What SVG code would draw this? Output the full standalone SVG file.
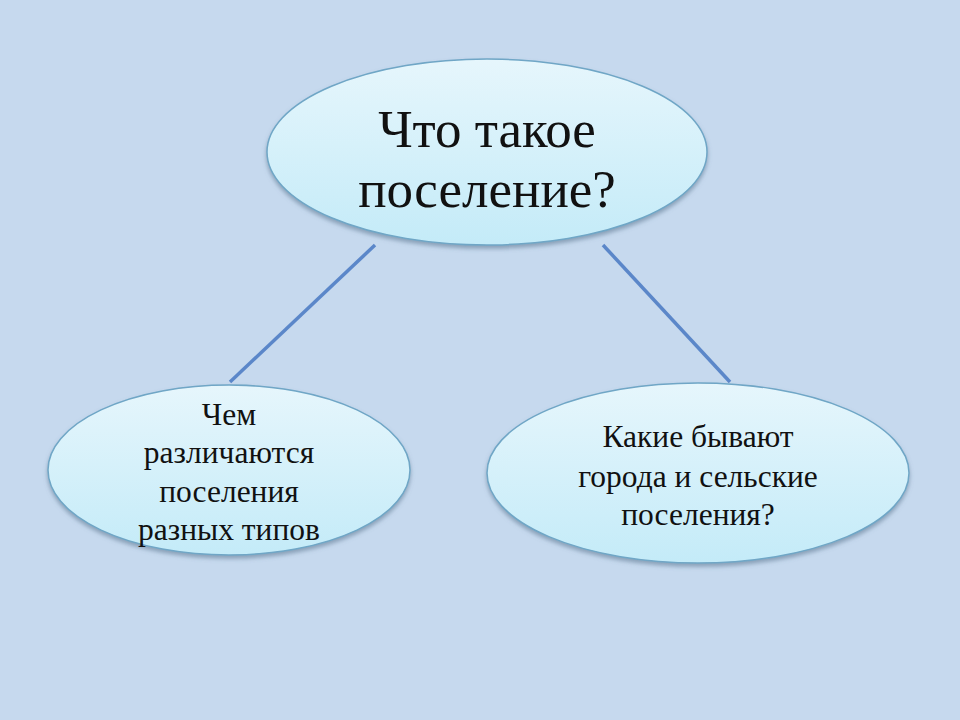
<svg xmlns="http://www.w3.org/2000/svg" width="960" height="720" viewBox="0 0 960 720">
<style>
.node ellipse{fill:url(#g);stroke:#6fa6c6;stroke-width:1.5;filter:url(#sh)}
.t{font-family:"Liberation Serif","Times New Roman",serif;fill:#111;text-anchor:middle}
.big{font-size:53px}
.small{font-size:31.5px}
.conn line{stroke:#5b87c9;stroke-width:3.5}
</style>
<defs>
<linearGradient id="g" x1="0" y1="0" x2="0" y2="1">
<stop offset="0" stop-color="#e6f6fc"/>
<stop offset="1" stop-color="#c4ebf8"/>
</linearGradient>
<filter id="sh" x="-10%" y="-10%" width="120%" height="130%">
<feDropShadow dx="0" dy="3" stdDeviation="2" flood-color="#55708a" flood-opacity="0.55"/>
</filter>
</defs>
<rect width="960" height="720" fill="#c6d9ee"/>
<g id="connectors" class="conn">
<line x1="375" y1="245" x2="230" y2="382"/>
<line x1="603" y1="245" x2="730" y2="382"/>
</g>
<g id="top" class="node">
<ellipse cx="487" cy="152" rx="220" ry="93"/>
<text class="t big" x="487" y="147">Что такое</text>
<text class="t big" x="487" y="207">поселение?</text>
</g>
<g id="left" class="node">
<ellipse cx="229" cy="470" rx="181" ry="85"/>
<text class="t small" x="229" y="425">Чем</text>
<text class="t small" x="229" y="463">различаются</text>
<text class="t small" x="229" y="502">поселения</text>
<text class="t small" x="229" y="540">разных типов</text>
</g>
<g id="right" class="node">
<ellipse cx="698" cy="473" rx="211" ry="90"/>
<text class="t small" x="698" y="447">Какие бывают</text>
<text class="t small" x="698" y="487">города и сельские</text>
<text class="t small" x="698" y="525">поселения?</text>
</g>
</svg>
